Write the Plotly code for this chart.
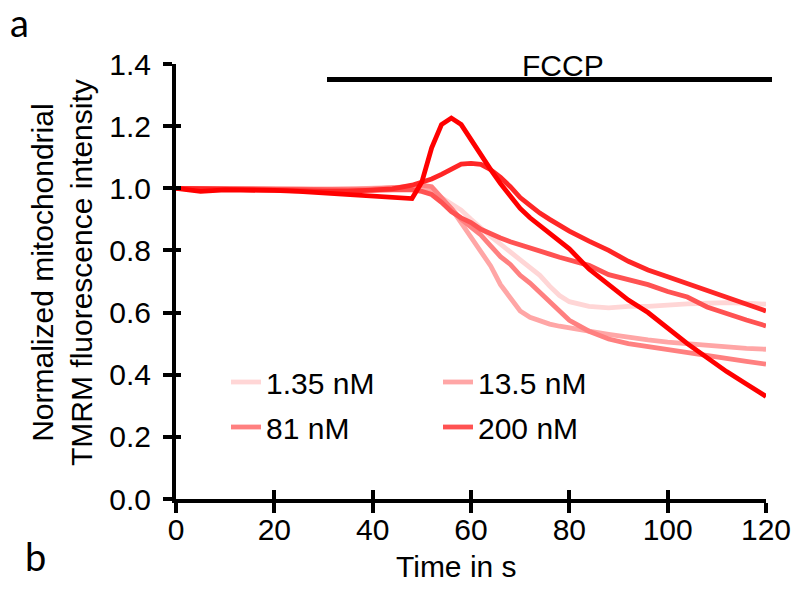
import plotly.graph_objects as go

t = [0, 5, 10, 15, 20, 25, 30, 35, 40, 44, 48, 50, 52, 54, 56, 58, 60, 62, 64, 66, 68,
     70, 72, 74, 76, 78, 80, 84, 88, 92, 96, 100, 104, 108, 112, 116, 120]

s_135 = [1.0, 1.0, 1.0, 1.0, 1.0, 0.998, 0.997, 0.997, 0.998, 1.0, 1.0, 0.995, 0.985, 0.97, 0.952,
         0.93, 0.90, 0.87, 0.845, 0.82, 0.795, 0.77, 0.745, 0.72, 0.685, 0.655, 0.635, 0.62, 0.615,
         0.62, 0.62, 0.625, 0.628, 0.63, 0.632, 0.63, 0.627]
s_13_5 = [1.0, 1.0, 1.0, 0.999, 0.998, 0.997, 0.996, 0.997, 0.999, 1.002, 1.005, 1.005, 0.99, 0.965,
          0.935, 0.89, 0.845, 0.80, 0.75, 0.69, 0.65, 0.605, 0.585, 0.572, 0.563, 0.556, 0.55, 0.54,
          0.53, 0.52, 0.512, 0.505, 0.50, 0.493, 0.488, 0.485, 0.482]
s_81 = [1.0, 0.999, 0.998, 0.998, 0.997, 0.996, 0.995, 0.996, 0.998, 1.0, 1.005, 1.01, 1.005, 0.97,
        0.935, 0.90, 0.875, 0.85, 0.815, 0.78, 0.755, 0.72, 0.695, 0.665, 0.63, 0.60, 0.575, 0.54,
        0.515, 0.50, 0.49, 0.48, 0.47, 0.46, 0.452, 0.443, 0.434]
s_200 = [1.0, 0.999, 0.998, 0.997, 0.996, 0.995, 0.993, 0.992, 0.993, 0.995, 0.995, 0.99, 0.98,
         0.955, 0.925, 0.905, 0.89, 0.868, 0.852, 0.84, 0.828, 0.817, 0.807, 0.797, 0.788, 0.778,
         0.77, 0.752, 0.722, 0.705, 0.69, 0.668, 0.65, 0.618, 0.595, 0.576, 0.557]
s_e = [1.0, 0.998, 0.997, 0.996, 0.995, 0.993, 0.99, 0.99, 0.993, 0.998, 1.01, 1.02, 1.03, 1.045,
       1.063, 1.078, 1.08, 1.077, 1.06, 1.035, 1.005, 0.97, 0.945, 0.92, 0.90, 0.88, 0.862, 0.83,
       0.80, 0.765, 0.737, 0.715, 0.693, 0.67, 0.652, 0.63, 0.605]
s_f = [1.0, 0.99, 0.995, 0.995, 0.993, 0.99, 0.985, 0.977, 0.972, 0.97, 0.967, 1.02, 1.13, 1.205,
       1.226, 1.205, 1.155, 1.11, 1.06, 1.015, 0.975, 0.935, 0.905, 0.88, 0.855, 0.83, 0.805, 0.74,
       0.69, 0.64, 0.60, 0.55, 0.50, 0.455, 0.41, 0.37, 0.33]

series = [
    ("1.35 nM", s_135, "#ffd6d6", "legend", True),
    ("13.5 nM", s_13_5, "#ffa6a6", "legend2", True),
    ("81 nM", s_81, "#ff8080", "legend", True),
    ("200 nM", s_200, "#ff5252", "legend2", True),
    ("E", s_e, "#ff2626", "legend", False),
    ("F", s_f, "#ff0000", "legend", False),
]

x_ticks = [0, 20, 40, 60, 80, 100, 120]
y_ticks = [0.0, 0.2, 0.4, 0.6, 0.8, 1.0, 1.2, 1.4]
y_labels = ["0.0", "0.2", "0.4", "0.6", "0.8", "1.0", "1.2", "1.4"]

FONT = "Liberation Sans"

L, R, T, B = 176, 28, 64, 94
PW, PH = 794 - L - R, 593 - T - B


def px(xp):
    return (xp - L) / PW


def py(yp):
    return (593 - B - yp) / PH


fig = go.Figure()
for i, (name, vals, col, lg, show) in enumerate(series):
    last = i == len(series) - 1
    fig.add_trace(go.Scatter(
        x=t, y=vals, mode="lines", name=name,
        line=dict(color=col, width=4.8),
        showlegend=show, legend=lg, legendgroup=name,
        xaxis="x2" if last else "x", yaxis="y2" if last else "y",
    ))

axis_common = dict(showgrid=False, zeroline=False, automargin=False)
fig.update_layout(
    width=794, height=593,
    margin=dict(l=L, r=R, t=T, b=B),
    paper_bgcolor="white", plot_bgcolor="white",
    font=dict(family=FONT, size=30, color="black"),
    xaxis=dict(range=[0, 120], tickvals=x_ticks, ticks="outside", ticklen=10, tickwidth=3.5,
               tickcolor="black", showline=True, linewidth=4, linecolor="black",
               tickfont=dict(size=30, family=FONT), ticklabelstandoff=-9, **axis_common),
    yaxis=dict(range=[0, 1.4], tickvals=y_ticks, ticktext=y_labels, ticks="outside", ticklen=9,
               tickwidth=3.5, tickcolor="black", showline=True, linewidth=4, linecolor="black",
               tickfont=dict(size=30, family=FONT), ticklabelstandoff=6, **axis_common),
    xaxis2=dict(range=[0, 120], tickvals=x_ticks, ticks="inside", ticklen=9, tickwidth=3.5,
                tickcolor="black", showticklabels=False, showline=False, overlaying="x",
                anchor="y2", side="bottom", **axis_common),
    yaxis2=dict(range=[0, 1.4], tickvals=y_ticks, ticks="inside", ticklen=5, tickwidth=3.5,
                tickcolor="black", showticklabels=False, showline=False, overlaying="y",
                anchor="x2", side="left", **axis_common),
    legend=dict(x=px(226), y=py(356), xanchor="left", yanchor="top", bgcolor="rgba(0,0,0,0)",
                font=dict(size=30, family=FONT), tracegroupgap=3),
    legend2=dict(x=px(438), y=py(356), xanchor="left", yanchor="top", bgcolor="rgba(0,0,0,0)",
                 font=dict(size=30, family=FONT), tracegroupgap=3),
    showlegend=True,
)

fig.add_shape(type="line", xref="paper", yref="y", x0=px(327), x1=px(772), y0=1.35, y1=1.35,
              line=dict(color="black", width=5))

fig.add_annotation(text="FCCP", xref="paper", yref="paper", x=px(563), y=py(66),
                   showarrow=False, font=dict(size=30, family=FONT), yanchor="middle")
fig.add_annotation(text="Time in s", xref="paper", yref="paper", x=px(456),
                   y=py(566), showarrow=False, font=dict(size=30, family=FONT),
                   yanchor="middle")
fig.add_annotation(text="Normalized mitochondrial<br>TMRM fluorescence intensity",
                   xref="paper", yref="paper", x=px(62), y=py(273),
                   textangle=-90, showarrow=False, font=dict(size=30, family=FONT),
                   xanchor="center", yanchor="middle")
fig.add_annotation(text="a", xref="paper", yref="paper", x=px(19), y=py(22),
                   showarrow=False, font=dict(size=38, family="Lato, sans-serif"),
                   xanchor="center", yanchor="middle")
fig.add_annotation(text="b", xref="paper", yref="paper", x=px(35), y=py(556),
                   showarrow=False, font=dict(size=38, family="Lato, sans-serif"),
                   xanchor="center", yanchor="middle")

fig.write_html("out.html")
